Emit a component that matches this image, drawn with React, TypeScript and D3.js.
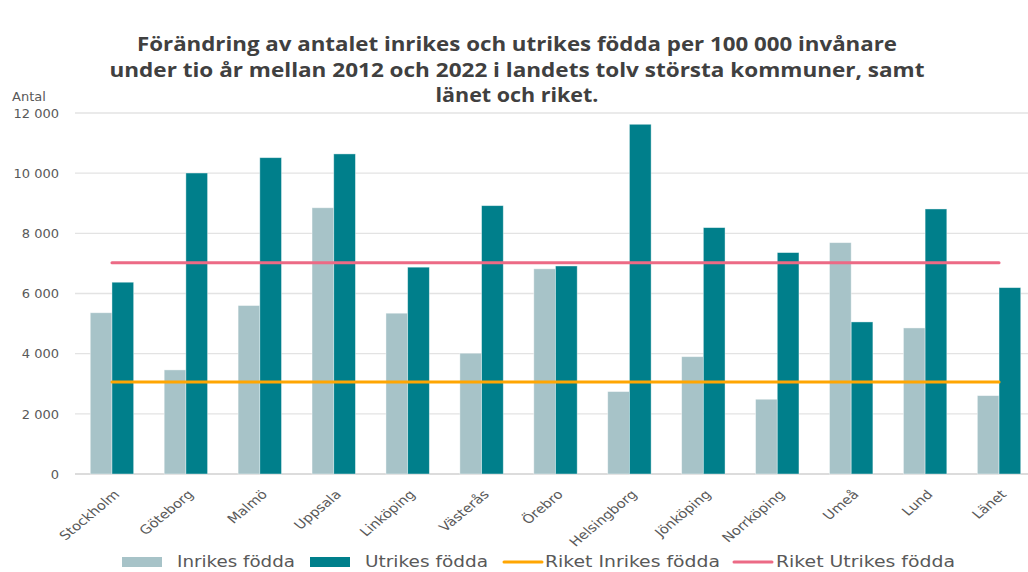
import React from "react";
import * as d3 from "d3";

const categories = ["Stockholm", "Göteborg", "Malmö", "Uppsala", "Linköping", "Västerås", "Örebro", "Helsingborg", "Jönköping", "Norrköping", "Umeå", "Lund", "Länet"];
const inrikes = [5360, 3460, 5600, 8850, 5345, 4015, 6820, 2740, 3900, 2485, 7690, 4855, 2605];
const utrikes = [6375, 10005, 10515, 10640, 6875, 8920, 6915, 11625, 8190, 7360, 5055, 8810, 6195];
const riketInrikes = 3060;
const riketUtrikes = 7025;
const yTicks = [0, 2000, 4000, 6000, 8000, 10000, 12000];
const titleLines = [
  "Förändring av antalet inrikes och utrikes födda per 100 000 invånare",
  "under tio år mellan 2012 och 2022 i landets tolv största kommuner, samt",
  "länet och riket.",
];
const legendLabels = ["Inrikes födda", "Utrikes födda", "Riket Inrikes födda", "Riket Utrikes födda"];

const W = 1028;
const H = 572;
const LIGHT = "#A7C3C8";
const DARK = "#007F8B";
const ORANGE = "#FFA602";
const PINK = "#EC6A85";
const TEXT = "#595959";

const fmt = (v: number) => d3.format(",")(v).replace(/,/g, " ");

export default function App() {
  const x = d3.scaleBand<string>().domain(categories).range([75, 1036]).paddingInner(0.413).paddingOuter(0.2065);
  const sub = d3.scaleBand<string>().domain(["in", "ut"]).range([0, x.bandwidth()]);
  const y = d3.scaleLinear().domain([0, 12000]).range([474, 113]);
  const first = x(categories[0])! + x.bandwidth() / 2;
  const last = x(categories[categories.length - 1])! + x.bandwidth() / 2;
  const line = d3.line<[number, number]>();

  const titleWidths = [760, 815, 163];
  const titleY = [51, 77, 102];

  return (
    <svg width={W} height={H} style={{ position: "absolute", left: 0, top: 0, background: "#fff" }}>
      {titleLines.map((t, i) => (
        <text key={i} x={517} y={titleY[i]} textAnchor="middle" fontFamily="'Open Sans', sans-serif" fontWeight={700} fontSize={19} fill="#404040" textLength={titleWidths[i]} lengthAdjust="spacingAndGlyphs">{t}</text>
      ))}
      <text x={12} y={101} fontFamily="'DejaVu Sans', sans-serif" fontSize={13} fill={TEXT}>Antal</text>
      {yTicks.map((t) => (
        <g key={t}>
          <line x1={75} x2={1036} y1={y(t)} y2={y(t)} stroke={t === 0 ? "#D0D0D0" : "#E3E3E3"} strokeWidth={1.3} />
          <text x={59} y={y(t)} dy="0.36em" textAnchor="end" fontFamily="'DejaVu Sans', sans-serif" fontSize={13} fill={TEXT}>{fmt(t)}</text>
        </g>
      ))}
      {categories.map((c, i) => (
        <g key={c} transform={`translate(${x(c)},0)`}>
          <rect x={sub("in")} y={y(inrikes[i])} width={sub.bandwidth()} height={y(0) - y(inrikes[i])} fill={LIGHT} stroke="#ffffff" strokeOpacity={0.5} strokeWidth={0.8} />
          <rect x={sub("ut")} y={y(utrikes[i])} width={sub.bandwidth()} height={y(0) - y(utrikes[i])} fill={DARK} stroke="#ffffff" strokeOpacity={0.5} strokeWidth={0.8} />
        </g>
      ))}
      <path d={line([[first, y(riketInrikes)], [last, y(riketInrikes)]])!} stroke={ORANGE} strokeWidth={3} fill="none" strokeLinecap="round" />
      <path d={line([[first, y(riketUtrikes)], [last, y(riketUtrikes)]])!} stroke={PINK} strokeWidth={3} fill="none" strokeLinecap="round" />
      {categories.map((c) => {
        const cx = x(c)! + x.bandwidth() / 2;
        return (
          <text key={c} transform={`translate(${cx + 1},${489}) scale(1.2,1) rotate(-45)`} dy="0.71em" textAnchor="end" fontFamily="'DejaVu Sans', sans-serif" fontSize={12.3} fill={TEXT}>{c}</text>
        );
      })}
      <g fontFamily="'DejaVu Sans', sans-serif" fontSize={15} fill={TEXT}>
        <rect x={122} y={557} width={40} height={10} fill={LIGHT} />
        <text x={177} y={567} textLength={118} lengthAdjust="spacingAndGlyphs">{legendLabels[0]}</text>
        <rect x={310} y={557} width={40} height={10} fill={DARK} />
        <text x={365} y={567} textLength={123} lengthAdjust="spacingAndGlyphs">{legendLabels[1]}</text>
        <line x1={504} x2={542} y1={562} y2={562} stroke={ORANGE} strokeWidth={3} strokeLinecap="round" />
        <text x={545} y={567} textLength={175} lengthAdjust="spacingAndGlyphs">{legendLabels[2]}</text>
        <line x1={734} x2={772} y1={562} y2={562} stroke={PINK} strokeWidth={3} strokeLinecap="round" />
        <text x={776} y={567} textLength={179} lengthAdjust="spacingAndGlyphs">{legendLabels[3]}</text>
      </g>
    </svg>
  );
}
